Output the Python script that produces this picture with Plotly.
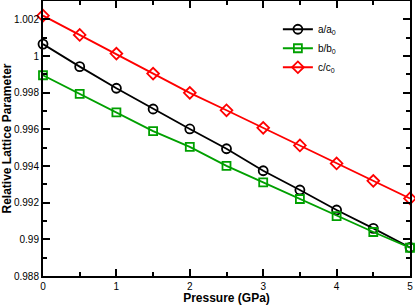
import plotly.graph_objects as go

pressure = [0, 0.5, 1, 1.5, 2, 2.5, 3, 3.5, 4, 4.5, 5]
a_rel = [1.00065, 0.99942, 0.99824, 0.99711, 0.99602, 0.99494, 0.99374, 0.99269, 0.99160, 0.99060, 0.98956]
b_rel = [0.99895, 0.99793, 0.99693, 0.99590, 0.99504, 0.99401, 0.99311, 0.99220, 0.99127, 0.99040, 0.98954]
c_rel = [1.00220, 1.00115, 1.00013, 0.99904, 0.99799, 0.99704, 0.99608, 0.99512, 0.99414, 0.99319, 0.99223]

names = ["a/a<sub>0</sub>", "b/b<sub>0</sub>", "c/c<sub>0</sub>"]
colors = ["#000000", "#00a000", "#ff0000"]
symbols = ["circle-open", "square-open", "diamond-open"]
sizes = [9, 8, 9]

fig = go.Figure()
for ys, n, c, s, sz in zip([a_rel, b_rel, c_rel], names, colors, symbols, sizes):
    fig.add_trace(go.Scatter(
        x=pressure, y=ys, name=n, mode="lines+markers",
        line=dict(color=c, width=1.8),
        marker=dict(symbol=s, size=sz, color=c, line=dict(width=1.8, color=c)),
        cliponaxis=False,
    ))

axis_common = dict(
    showline=True, mirror="allticks", linecolor="black", linewidth=2,
    ticks="inside", ticklen=7, tickwidth=1.5, tickcolor="black",
    showgrid=False, zeroline=False, automargin=False,
    tickfont=dict(family="Liberation Sans, Arial", size=10, color="black"),
)

fig.update_xaxes(
    range=[0, 5], dtick=1, tick0=0,
    minor=dict(dtick=0.5, ticks="inside", ticklen=4, tickwidth=1.5, tickcolor="black"),
    title=dict(text="<b>Pressure (GPa)</b>", font=dict(family="Liberation Sans, Arial", size=12, color="black"), standoff=1),
    **axis_common,
)
fig.update_yaxes(
    range=[0.988, 1.003], dtick=0.002, tick0=0.988,
    minor=dict(dtick=0.001, ticks="inside", ticklen=4, tickwidth=1.5, tickcolor="black"),
    title=dict(text="<b>Relative Lattice Parameter</b>", font=dict(family="Liberation Sans, Arial", size=12, color="black"), standoff=3),
    **axis_common,
)

fig.update_layout(
    width=415, height=305,
    margin=dict(l=43, r=5, t=1, b=29),
    plot_bgcolor="white", paper_bgcolor="white",
    legend=dict(x=0.64, y=0.95, xanchor="left", yanchor="top",
                font=dict(family="Liberation Sans, Arial", size=10, color="black"),
                bgcolor="rgba(0,0,0,0)", itemwidth=30, tracegroupgap=0),
    showlegend=True,
)

fig.write_html("out.html", config={"displayModeBar": False},
               post_script="document.body.style.margin='0';document.body.style.padding='0';")
